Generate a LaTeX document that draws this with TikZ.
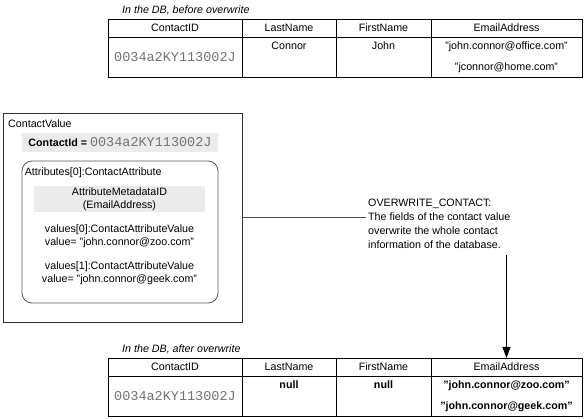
\documentclass[tikz,border=0pt]{standalone}
\usepackage{fontspec}
\setmainfont{Liberation Sans}
\newfontfamily\idfont{Liberation Mono}
\usetikzlibrary{positioning,arrows.meta}

\newcommand{\normtext}{\fontsize{10.7}{12.5}\selectfont}
\newcommand{\idtype}{\idfont\fontsize{13.5}{13.5}\selectfont}

\tikzset{
	hcell/.style={draw, line width=0.8pt, outer sep=0pt, inner sep=0pt, minimum height=18pt},
	bcell/.style={draw, line width=0.8pt, outer sep=0pt, inner sep=0pt, minimum height=40pt},
	ctext/.style={inner sep=0pt, align=center},
	mail/.style={inner sep=0pt, align=center, font=\fontsize{10.7}{21}\selectfont},
	dblabel/.style={inner sep=0pt, font=\normtext\itshape},
	idtext/.style={font=\idtype, text=black!55},
	shade/.style={fill=black!8, inner sep=0pt, outer sep=0pt},
	link/.style={draw=black!70, line width=0.9pt},
	push/.style={draw=black, line width=0.8pt, -{Triangle[length=11pt,width=8pt]}}
}

\begin{document}
\begin{tikzpicture}[x=1pt,y=-1pt,font=\normtext]
	\useasboundingbox (0,0) rectangle (584,419);

	% before
	\node[hcell, minimum width=134pt, anchor=north west] (th1) at (108,19) {ContactID};
	\node[hcell, minimum width=94pt, right=0pt of th1] (th2) {LastName};
	\node[hcell, minimum width=95pt, right=0pt of th2] (th3) {FirstName};
	\node[hcell, minimum width=151pt, right=0pt of th3] (th4) {EmailAddress};
	\node[bcell, idtext, minimum width=134pt, below=0pt of th1] (tb1) {0034a2KY113002J};
	\node[bcell, minimum width=94pt, below=0pt of th2] (tb2) {};
	\node[bcell, minimum width=95pt, below=0pt of th3] (tb3) {};
	\node[bcell, minimum width=151pt, below=0pt of th4] (tb4) {};
	\node[ctext, below=5pt of tb2.north] (tlast) {Connor};
	\node[ctext, below=5pt of tb3.north] (tfirst) {John};
	\node[mail, below=5pt of tb4.north] (tmail) {"john.connor@office.com"\\"jconnor@home.com"};
	\node[dblabel, above right=4pt and 14pt of th1.north west] (tlabel) {In the DB, before overwrite};

	% contact value
	\node[draw=black!80, line width=0.8pt, outer sep=0pt, minimum width=239pt, minimum height=209pt] (cv) at (122.5,217.5) {};
	\node[inner sep=0pt, anchor=north west] (cvname) at ([shift={(5pt,-7pt)}]cv.north west) {ContactValue};
	\node[shade, minimum width=196pt, minimum height=19pt] (cid) at (120,142.5)
		{\textbf{ContactId =} {\idtype\color{black!55}0034a2KY113002J}};
	\node[draw=black!65, line width=0.8pt, rounded corners=10pt, minimum width=196pt, minimum height=142pt] (attr) at (120,232) {};
	\node[inner sep=0pt, anchor=north west] (attrname) at ([shift={(3pt,-7pt)}]attr.north west) {Attributes[0]:ContactAttribute};
	\node[shade, align=center, minimum width=171pt, minimum height=26pt] (meta) at (119.5,199) {AttributeMetadataID\\(EmailAddress)};
	\node[ctext, below=13pt of meta] (val0) {values[0]:ContactAttributeValue\\ value= "john.connor@zoo.com"};
	\node[ctext, below=14pt of val0] (val1) {values[1]:ContactAttributeValue\\ value= "john.connor@geek.com"};

	% note
	\node[inner sep=0pt, anchor=north west, align=left, font=\fontsize{10.7}{14}\selectfont] (note) at (368,199)
		{OVERWRITE\_CONTACT:\\The fields of the contact value\\overwrite the whole contact\\information of the database.};

	% after
	\node[hcell, minimum width=134pt, anchor=north west] (bh1) at (108,358) {ContactID};
	\node[hcell, minimum width=94pt, right=0pt of bh1] (bh2) {LastName};
	\node[hcell, minimum width=95pt, right=0pt of bh2] (bh3) {FirstName};
	\node[hcell, minimum width=151pt, right=0pt of bh3] (bh4) {EmailAddress};
	\node[bcell, idtext, minimum width=134pt, below=0pt of bh1] (bb1) {0034a2KY113002J};
	\node[bcell, minimum width=94pt, below=0pt of bh2] (bb2) {};
	\node[bcell, minimum width=95pt, below=0pt of bh3] (bb3) {};
	\node[bcell, minimum width=151pt, below=0pt of bh4] (bb4) {};
	\node[ctext, font=\normtext\bfseries, below=5pt of bb2.north] (blast) {null};
	\node[ctext, font=\normtext\bfseries, below=5pt of bb3.north] (bfirst) {null};
	\node[mail, font=\fontsize{10.7}{21}\selectfont\bfseries, below=5pt of bb4.north] (bmail) {"john.connor@zoo.com"\\"john.connor@geek.com"};
	\node[dblabel, above right=4pt and 14pt of bh1.north west] (blabel) {In the DB, after overwrite};

	\draw[link] (cv.east) -- ([xshift=-2pt]cv.east -| note.west);
	\draw[push] ([yshift=-6pt]note.south -| bh4.north) -- (bh4.north);
\end{tikzpicture}
\end{document}
